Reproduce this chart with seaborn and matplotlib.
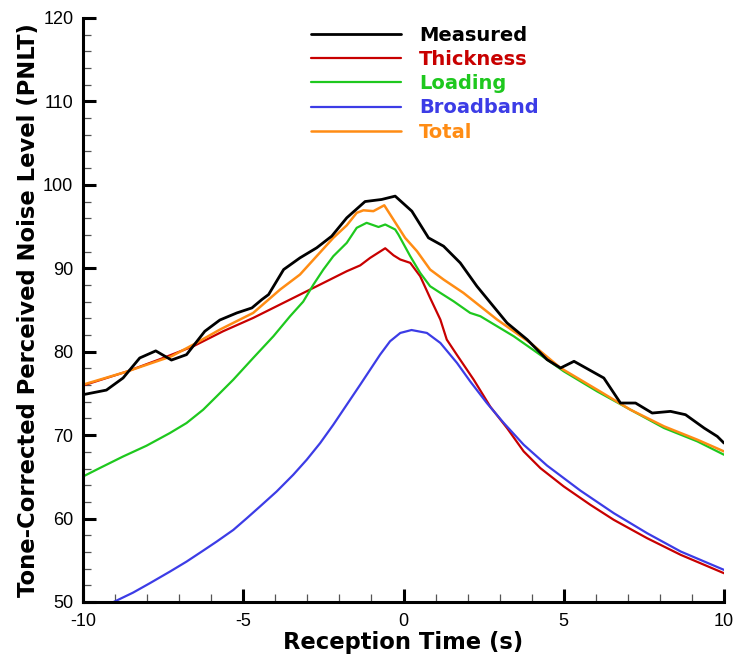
import matplotlib
matplotlib.use("Agg")
import matplotlib.pyplot as plt
import seaborn as sns
from matplotlib.ticker import MultipleLocator

# ---- data ----
meas_x = [-10, -9.27, -8.75, -8.23, -7.73, -7.24, -6.77, -6.2, -5.73, -5.2, -4.73, -4.42, -4.21,
          -3.74, -3.23, -2.71, -2.24, -1.77, -1.2, -0.68, -0.26, 0.26, 0.78, 1.25, 1.77, 2.29,
          3.23, 3.86, 4.48, 4.9, 5.32, 6.25, 6.77, 7.24, 7.76, 8.33, 8.8, 9.38, 9.79, 10]
meas_y = [74.85, 75.4, 76.85, 79.25, 80.1, 79.0, 79.65, 82.45, 83.8, 84.65, 85.25, 86.25, 86.85,
          89.85, 91.25, 92.45, 93.85, 96.05, 98.0, 98.25, 98.65, 96.85, 93.65, 92.65, 90.65, 87.85,
          83.45, 81.45, 79.05, 78.05, 78.85, 76.85, 73.85, 73.85, 72.65, 72.85, 72.45, 70.85, 69.85, 69.05]

thick_x = [-10, -8.65, -7.6, -6.56, -5.63, -4.69, -3.75, -2.81, -2.29, -1.77, -1.35, -1.04, -0.57,
           -0.31, -0.10, 0.21, 0.52, 0.83, 1.15, 1.35, 1.67, 2.19, 2.71, 3.23, 3.75, 4.27, 5.0,
           5.83, 6.56, 7.6, 8.65, 10]
thick_y = [75.95, 77.6, 79.1, 80.65, 82.45, 84.05, 85.85, 87.65, 88.65, 89.65, 90.35, 91.25, 92.4,
           91.55, 91.05, 90.65, 89.05, 86.45, 83.85, 81.45, 79.6, 76.65, 73.4, 70.85, 68.05, 66.05, 63.85,
           61.65, 59.85, 57.65, 55.65, 53.45]

load_x = [-10, -9.48, -8.75, -8.02, -7.29, -6.77, -6.25, -5.83, -5.31, -4.69, -4.06, -3.54, -3.13,
          -2.81, -2.5, -2.19, -1.77, -1.46, -1.15, -0.78, -0.57, -0.26, -0.16, 0.21, 0.52, 0.83,
          1.15, 1.56, 2.08, 2.4, 2.92, 3.44, 3.96, 4.48, 5.0, 6.04, 7.08, 8.13, 9.17, 10]
load_y = [65.04, 66.05, 67.44, 68.73, 70.25, 71.45, 73.05, 74.65, 76.65, 79.25, 81.85, 84.25, 86.0,
          88.05, 89.85, 91.45, 93.05, 94.85, 95.45, 94.95, 95.25, 94.65, 94.05, 91.45, 89.45, 87.85,
          87.05, 86.05, 84.65, 84.25, 83.05, 81.85, 80.45, 79.05, 77.65, 75.25, 73.05, 70.85, 69.25, 67.65]

broad_x = [-9.1, -8.44, -7.92, -7.29, -6.77, -6.25, -5.83, -5.31, -4.89, -4.48, -3.96, -3.44, -3.02,
           -2.60, -2.19, -1.77, -1.35, -1.04, -0.73, -0.42, -0.10, 0.25, 0.73, 1.15, 1.67, 2.08, 2.6,
           3.13, 3.75, 4.48, 5.52, 6.56, 7.6, 8.65, 10]
broad_y = [49.9, 51.12, 52.24, 53.64, 54.84, 56.16, 57.24, 58.64, 60.04, 61.44, 63.24, 65.25, 67.05,
           69.05, 71.25, 73.65, 76.05, 77.85, 79.65, 81.25, 82.25, 82.6, 82.25, 81.05, 78.65, 76.45, 73.85,
           71.45, 68.85, 66.35, 63.35, 60.65, 58.25, 56.05, 53.85]

total_x = [-10, -8.65, -7.24, -6.56, -5.73, -4.69, -3.85, -3.23, -2.71, -2.19, -1.77, -1.46, -1.25,
           -0.94, -0.6, 0.05, 0.42, 0.83, 1.25, 1.87, 2.92, 3.96, 4.9, 6.04, 7.08, 8.13, 9.17, 10]
total_y = [76.05, 77.6, 79.45, 80.85, 82.65, 84.65, 87.45, 89.25, 91.45, 93.65, 95.15, 96.65, 96.95,
           96.85, 97.55, 93.65, 92.05, 89.85, 88.65, 87.05, 83.85, 81.05, 78.05, 75.45, 73.05, 71.05, 69.45, 68.05]

series_names = ["Measured", "Thickness", "Loading", "Broadband", "Total"]
series_colors = ["#000000", "#C80000", "#1EC81E", "#3C3CE6", "#FF8C14"]
x_label = "Reception Time (s)"
y_label = "Tone-Corrected Perceived Noise Level (PNLT)"

# ---- plot ----
sns.set_theme(style="white")
plt.rcParams["font.family"] = ["Liberation Sans", "DejaVu Sans"]
plt.rcParams["axes.unicode_minus"] = False
plt.rcParams["text.color"] = "black"
plt.rcParams["axes.labelcolor"] = "black"
plt.rcParams["xtick.labelcolor"] = "black"
plt.rcParams["ytick.labelcolor"] = "black"

fig = plt.figure(figsize=(7.39, 6.63), dpi=100)
ax = fig.add_axes([83 / 739, 61 / 663, 641 / 739, 584 / 663])

data = [(meas_x, meas_y), (thick_x, thick_y), (load_x, load_y), (broad_x, broad_y), (total_x, total_y)]
widths = [2.0, 1.6, 1.6, 1.6, 1.8]
for i in [1, 2, 3, 4, 0]:
    xs, ys = data[i]
    sns.lineplot(x=xs, y=ys, ax=ax, color=series_colors[i], lw=widths[i],
                 sort=False, estimator=None, label=series_names[i], zorder=3 if i == 0 else 2)

ax.set_xlim(-10, 10)
ax.set_ylim(50, 120)
ax.xaxis.set_major_locator(MultipleLocator(5))
ax.xaxis.set_minor_locator(MultipleLocator(1))
ax.yaxis.set_major_locator(MultipleLocator(10))
ax.yaxis.set_minor_locator(MultipleLocator(2))

for s in ["top", "right"]:
    ax.spines[s].set_visible(False)
for s in ["left", "bottom"]:
    ax.spines[s].set_linewidth(2.2)
    ax.spines[s].set_color("black")

ax.tick_params(axis="both", which="major", direction="in", length=9.5, width=2.2, color="black",
               labelsize=13, labelcolor="black", bottom=True, left=True)
ax.tick_params(axis="both", which="minor", direction="in", length=5.5, width=0.9, color="#555555",
               bottom=True, left=True)
ax.tick_params(axis="x", which="major", pad=8)
ax.tick_params(axis="y", which="major", pad=7)

bold_font = {"family": "DejaVu Sans", "weight": "bold", "size": 16.3, "color": "black"}
ax.set_xlabel(x_label, fontdict=bold_font, labelpad=1)
ax.set_ylabel(y_label, fontdict=bold_font, labelpad=2)

handles, labels = ax.get_legend_handles_labels()
hmap = dict(zip(labels, handles))
leg = ax.legend([hmap[n] for n in series_names], series_names,
                loc="upper left", bbox_to_anchor=(0.356, 0.987), frameon=False,
                handlelength=4.6, handletextpad=0.95, labelspacing=0.27,
                borderpad=0, borderaxespad=0,
                prop={"family": "DejaVu Sans", "weight": "bold", "size": 14.0})
for t, c in zip(leg.get_texts(), series_colors):
    t.set_color(c)

fig.savefig("out.png", dpi=100, facecolor="white")
